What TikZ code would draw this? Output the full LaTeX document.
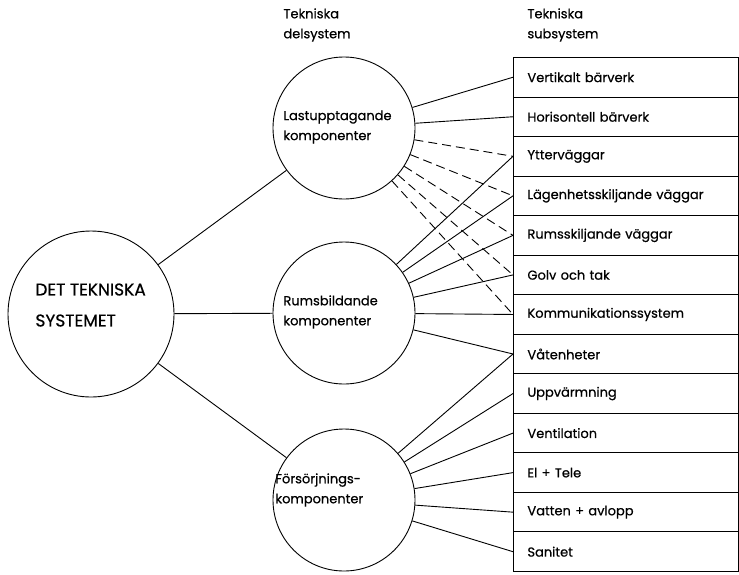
\documentclass[tikz,border=0pt]{standalone}
\usepackage{fontspec}
\setmainfont{Poppins}[UprightFeatures={FakeBold=0.6}]
\begin{document}
\begin{tikzpicture}[x=1pt,y=-1pt, line width=0.9pt,
  circ/.style={draw, circle, minimum size=142pt, inner sep=0pt},
  bigcirc/.style={draw, circle, minimum size=166pt, inner sep=0pt},
  subbox/.style={draw, rectangle, anchor=north west, minimum width=224.5pt, minimum height=39.54pt,
    text width=196.5pt, inner xsep=14pt, inner ysep=0pt, align=left, font=\fontsize{13}{15}\selectfont},
  lbl/.style={anchor=west, align=left, inner sep=0pt, font=\fontsize{13}{20}\selectfont},
  biglbl/.style={anchor=west, align=left, inner sep=0pt, font=\fontsize{17}{31}\selectfont},
  dashln/.style={dash pattern=on 9pt off 5pt}]
\useasboundingbox (0,0) rectangle (739,574);

% headers
\node[lbl] (h1) at (283,25) {Tekniska\\delsystem};
\node[lbl] (h2) at (527,25) {Tekniska\\subsystem};

% circles
\node[bigcirc] (sys) at (91,314) {};
\node[biglbl] (syst) at (35,305) {DET TEKNISKA\\SYSTEMET};
\node[circ] (la) at (344,128) {};
\node[lbl] (lat) at (283,127) {Lastupptagande\\komponenter};
\node[circ] (rb) at (344,313) {};
\node[lbl] (rbt) at (283,312) {Rumsbildande\\komponenter};
\node[circ] (fo) at (344,500) {};
\node[lbl] (fot) at (275,490) {Försörjnings-\\komponenter};

% boxes
\foreach \t [count=\i from 0] in {Vertikalt bärverk, Horisontell bärverk, Ytterväggar,
  Lägenhetsskiljande väggar, Rumsskiljande väggar, Golv och tak, Kommunikationssystem,
  Våtenheter, Uppvärmning, Ventilation, El + Tele, Vatten + avlopp, Sanitet}
  \node[subbox] (b\i) at (513,{57+39.54*\i}) {\t};

% connectors
\draw (sys) -- (la);
\draw (sys) -- (rb);
\draw (sys) -- (fo);
\foreach \i in {0,1} \draw (la) -- (b\i.west);
\foreach \i in {2,...,6} \draw[dashln] (la) -- (b\i.west);
\foreach \i in {2,...,7} \draw (rb) -- (b\i.west);
\foreach \i in {7,...,12} \draw (fo) -- (b\i.west);
\end{tikzpicture}
\end{document}
